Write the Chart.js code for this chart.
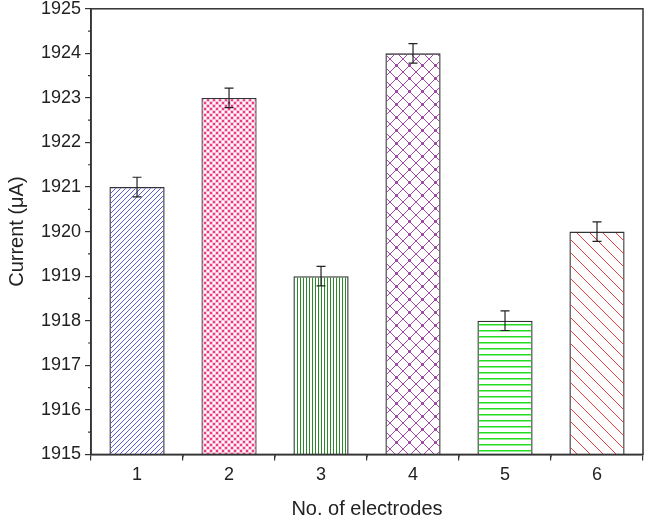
<!DOCTYPE html>
<html>
<head>
<meta charset="utf-8">
<script src="https://cdn.jsdelivr.net/npm/chart.js@4.4.1/dist/chart.umd.min.js"></script>
<style>
  html, body { margin: 0; padding: 0; background: #fff; }
  #wrap { width: 645px; height: 521px; overflow: hidden; }
  #myChart { display: block; margin-top: -6px; }
</style>
</head>
<body>
<div id="wrap"><canvas id="myChart" width="645" height="527"></canvas></div>
<script>
// chart data
var electrodes = ['1', '2', '3', '4', '5', '6'];
var currents = [1921, 1923, 1919, 1924, 1918, 1920];
var errors = [0.22, 0.22, 0.22, 0.22, 0.22, 0.22];
var yTicks = [1915, 1916, 1917, 1918, 1919, 1920, 1921, 1922, 1923, 1924, 1925];

function hatch(kind, color) {
    var c = document.createElement('canvas');
    var g = c.getContext('2d');
    var s, i;
    g.fillStyle = color;
    if (kind === 'fwd') {
        s = 5; c.width = s; c.height = s;
        g.fillStyle = color;
        for (i = 0; i < s; i++) g.fillRect(s - 1 - i, i, 1, 1);
    } else if (kind === 'back') {
        s = 13; c.width = s; c.height = s;
        g.fillStyle = color;
        for (i = 0; i < s; i++) g.fillRect(i, i, 1, 1);
    } else if (kind === 'vert') {
        s = 3; c.width = s; c.height = s;
        g.fillStyle = color;
        g.fillRect(0, 0, 1, s);
    } else if (kind === 'horiz') {
        s = 6; c.width = s; c.height = s;
        g.fillStyle = color;
        g.fillRect(0, 0, s, 1.5);
    } else if (kind === 'diamond') {
        s = 13; c.width = s; c.height = s;
        g.fillStyle = color;
        for (i = 0; i < s; i++) {
            g.fillRect(i, i, 1, 1);
            g.fillRect(s - 1 - i, i, 1, 1);
        }
        g.fillRect(5, 5, 3, 3);
    } else if (kind === 'dense') {
        // small checked cross-hatch, pink with white gaps
        s = 6; c.width = s; c.height = s;
        g.fillStyle = '#f9c2d8';
        g.fillRect(0, 0, s, s);
        g.fillStyle = color;
        g.fillRect(0, 0, 2, 2);
        g.fillRect(3, 3, 2, 2);
        g.fillStyle = '#ffffff';
        g.fillRect(3, 0, 2, 2);
        g.fillRect(0, 3, 2, 2);
    }
    return g.createPattern(c, 'repeat');
}

var ctx = document.getElementById('myChart').getContext('2d');
var fills = [
    hatch('fwd', '#5a5ae6'),
    hatch('dense', '#ea3c82'),
    hatch('vert', '#2a8a2a'),
    hatch('diamond', '#a04aa8'),
    hatch('horiz', '#22dd22'),
    hatch('back', '#e84040')
];

var extras = {
    id: 'extras',
    afterDatasetsDraw: function(chart) {
        var g = chart.ctx;
        var x = chart.scales.x, y = chart.scales.y;
        var a = chart.chartArea;
        g.save();
        // error bars
        g.strokeStyle = '#222';
        g.lineWidth = 1.2;
        currents.forEach(function(v, i) {
            var px = x.getPixelForValue(i);
            var t = y.getPixelForValue(v + errors[i]);
            var b = y.getPixelForValue(v - errors[i]);
            g.beginPath();
            g.moveTo(px, t); g.lineTo(px, b);
            g.moveTo(px - 4.5, t); g.lineTo(px + 4.5, t);
            g.moveTo(px - 4.5, b); g.lineTo(px + 4.5, b);
            g.stroke();
        });
        // frame
        g.strokeStyle = '#333';
        g.lineWidth = 1.5;
        g.strokeRect(a.left, a.top, a.right - a.left, a.bottom - a.top);
        // minor ticks
        g.lineWidth = 1.2;
        g.beginPath();
        for (var k = 0; k < yTicks.length - 1; k++) {
            var py = y.getPixelForValue(yTicks[k] + 0.5);
            g.moveTo(a.left - 3, py); g.lineTo(a.left, py);
        }
        for (var j = 0; j < electrodes.length - 1; j++) {
            var mx = (x.getPixelForValue(j) + x.getPixelForValue(j + 1)) / 2;
            g.moveTo(mx, a.bottom); g.lineTo(mx, a.bottom + 3);
        }
        g.stroke();
        g.restore();
    }
};

var myChart = new Chart(ctx, {
    type: 'bar',
    data: {
        labels: electrodes,
        datasets: [{
            data: currents,
            backgroundColor: fills,
            borderColor: '#333',
            borderWidth: 1.3,
            borderSkipped: false,
            barPercentage: 0.6,
            categoryPercentage: 1.0
        }]
    },
    options: {
        responsive: false,
        animation: false,
        layout: { padding: { top: 0, right: 2, left: 5, bottom: 0 } },
        plugins: {
            legend: { display: false },
            tooltip: { enabled: false }
        },
        scales: {
            x: {
                grid: { drawOnChartArea: false, tickLength: 6, color: '#333', lineWidth: 1.2 },
                border: { color: '#333', width: 1.5 },
                ticks: { color: '#222', font: { family: 'Liberation Sans', size: 18 }, padding: 4 },
                title: {
                    display: true,
                    text: 'No. of electrodes',
                    color: '#222',
                    font: { family: 'Liberation Sans', size: 20 },
                    padding: { top: 7, bottom: 0 }
                }
            },
            y: {
                min: 1915,
                max: 1925,
                afterBuildTicks: function(scale) {
                    scale.ticks = yTicks.map(function(v) { return { value: v }; });
                },
                grid: { drawOnChartArea: false, tickLength: 6, color: '#333', lineWidth: 1.2 },
                border: { color: '#333', width: 1.5 },
                ticks: {
                    color: '#222',
                    font: { family: 'Liberation Sans', size: 18 },
                    padding: 4,
                    callback: function(v) { return String(v); }
                },
                title: {
                    display: true,
                    text: 'Current (\u03bcA)',
                    color: '#222',
                    font: { family: 'Liberation Sans', size: 20 },
                    padding: { top: 0, bottom: 8 }
                }
            }
        }
    },
    plugins: [extras]
});
</script>
</body>
</html>
